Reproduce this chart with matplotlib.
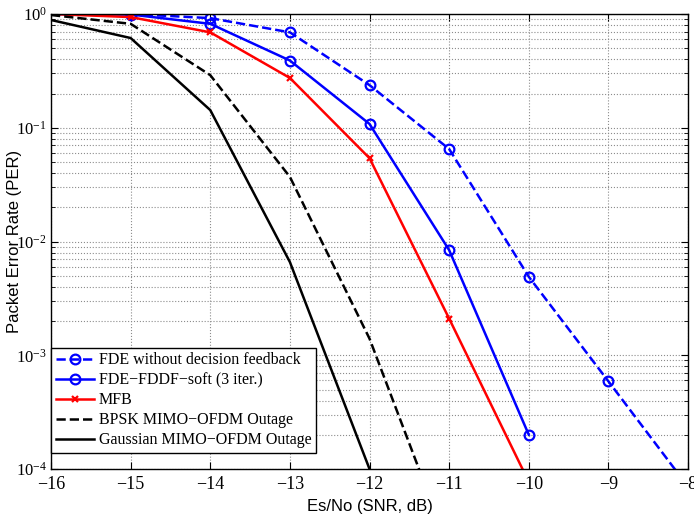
import matplotlib
matplotlib.use("Agg")
import matplotlib.pyplot as plt
import numpy as np
from matplotlib.ticker import LogLocator, NullFormatter, FixedLocator

# SNR points (dB)
snr = [-16, -15, -14, -13, -12, -11, -10, -9, -8]

# packet error rates
fde_nofb = [1.0, 1.0, 0.92, 0.69, 0.237, 0.065, 0.0049, 5.9e-4, 7e-5]
fde_fddf = [1.0, 0.99, 0.82, 0.39, 0.108, 0.0084, 2.0e-4]
mfb = [1.0, 0.94, 0.69, 0.274, 0.054, 0.0021, 7.7e-5]
bpsk_out = [0.98, 0.82, 0.29, 0.037, 0.0014, 2.0e-5]
gauss_out = [0.886, 0.615, 0.143, 0.0066, 1.0e-4]

labels = ["FDE without decision feedback", "FDE\u2212FDDF\u2212soft (3 iter.)", "MFB",
          "BPSK MIMO\u2212OFDM Outage", "Gaussian MIMO\u2212OFDM Outage"]
xticklabels = ["\u221216", "\u221215", "\u221214", "\u221213", "\u221212",
               "\u221211", "\u221210", "\u22129", "\u22128"]

serif = "Liberation Serif"
sans = "Liberation Sans"

fig = plt.figure(figsize=(6.94, 5.15), dpi=100)
ax = fig.add_axes([0.0735, 0.0893, 0.9179, 0.8835])

ax.semilogy(snr, fde_nofb, '--', color='b', lw=1.8, marker='o', mfc='none', mew=1.6, ms=7,
            markevery=list(range(1, 9)), label=labels[0])
ax.semilogy(snr[:7], fde_fddf, '-', color='b', lw=1.8, marker='o', mfc='none', mew=1.6, ms=7,
            markevery=list(range(1, 7)), label=labels[1])
ax.semilogy(snr[:7], mfb, '-', color='r', lw=1.8, marker='x', mew=1.6, ms=5,
            markevery=list(range(1, 7)), label=labels[2])
ax.semilogy(snr[:6], bpsk_out, '--', color='k', lw=1.8, label=labels[3])
ax.semilogy(snr[:5], gauss_out, '-', color='k', lw=1.8, label=labels[4])

ax.set_xlim(-16, -8)
ax.set_ylim(1e-4, 1)
ax.xaxis.set_major_locator(FixedLocator(snr))
ax.yaxis.set_major_locator(LogLocator(base=10, numticks=10))
ax.yaxis.set_minor_locator(LogLocator(base=10, subs=np.arange(2, 10), numticks=10))
ax.yaxis.set_minor_formatter(NullFormatter())
ax.set_xticklabels(xticklabels)

ax.grid(True, which='major', ls=':', color='0.55', lw=0.8)
ax.grid(True, which='minor', axis='y', ls=':', color='0.55', lw=0.8)
ax.tick_params(which='both', direction='in', top=True, right=True)
ax.tick_params(which='major', length=5)
ax.tick_params(axis='x', pad=5, labelsize=13)
ax.tick_params(axis='y', pad=3, labelsize=12)
ax.tick_params(which='minor', length=3)
for t in ax.get_xticklabels() + ax.get_yticklabels():
    t.set_fontfamily(serif)
for s in ax.spines.values():
    s.set_linewidth(1.0)

ax.set_xlabel("Es/No (SNR, dB)", fontsize=12, fontfamily=sans)
ax.set_ylabel("Packet Error Rate (PER)", fontsize=12, fontfamily=sans)
ax.xaxis.set_label_coords(0.5, -0.066)
ax.yaxis.set_label_coords(-0.046, 0.5)

leg = ax.legend(loc='lower left', bbox_to_anchor=(0.0, 0.035), borderaxespad=0,
                prop={'family': serif, 'size': 11.5}, fancybox=False,
                edgecolor='k', framealpha=1, handlelength=2.4,
                labelspacing=0.25, borderpad=0.3, handletextpad=0.3)
leg.get_frame().set_linewidth(1.0)

fig.savefig("out.png", dpi=100)
